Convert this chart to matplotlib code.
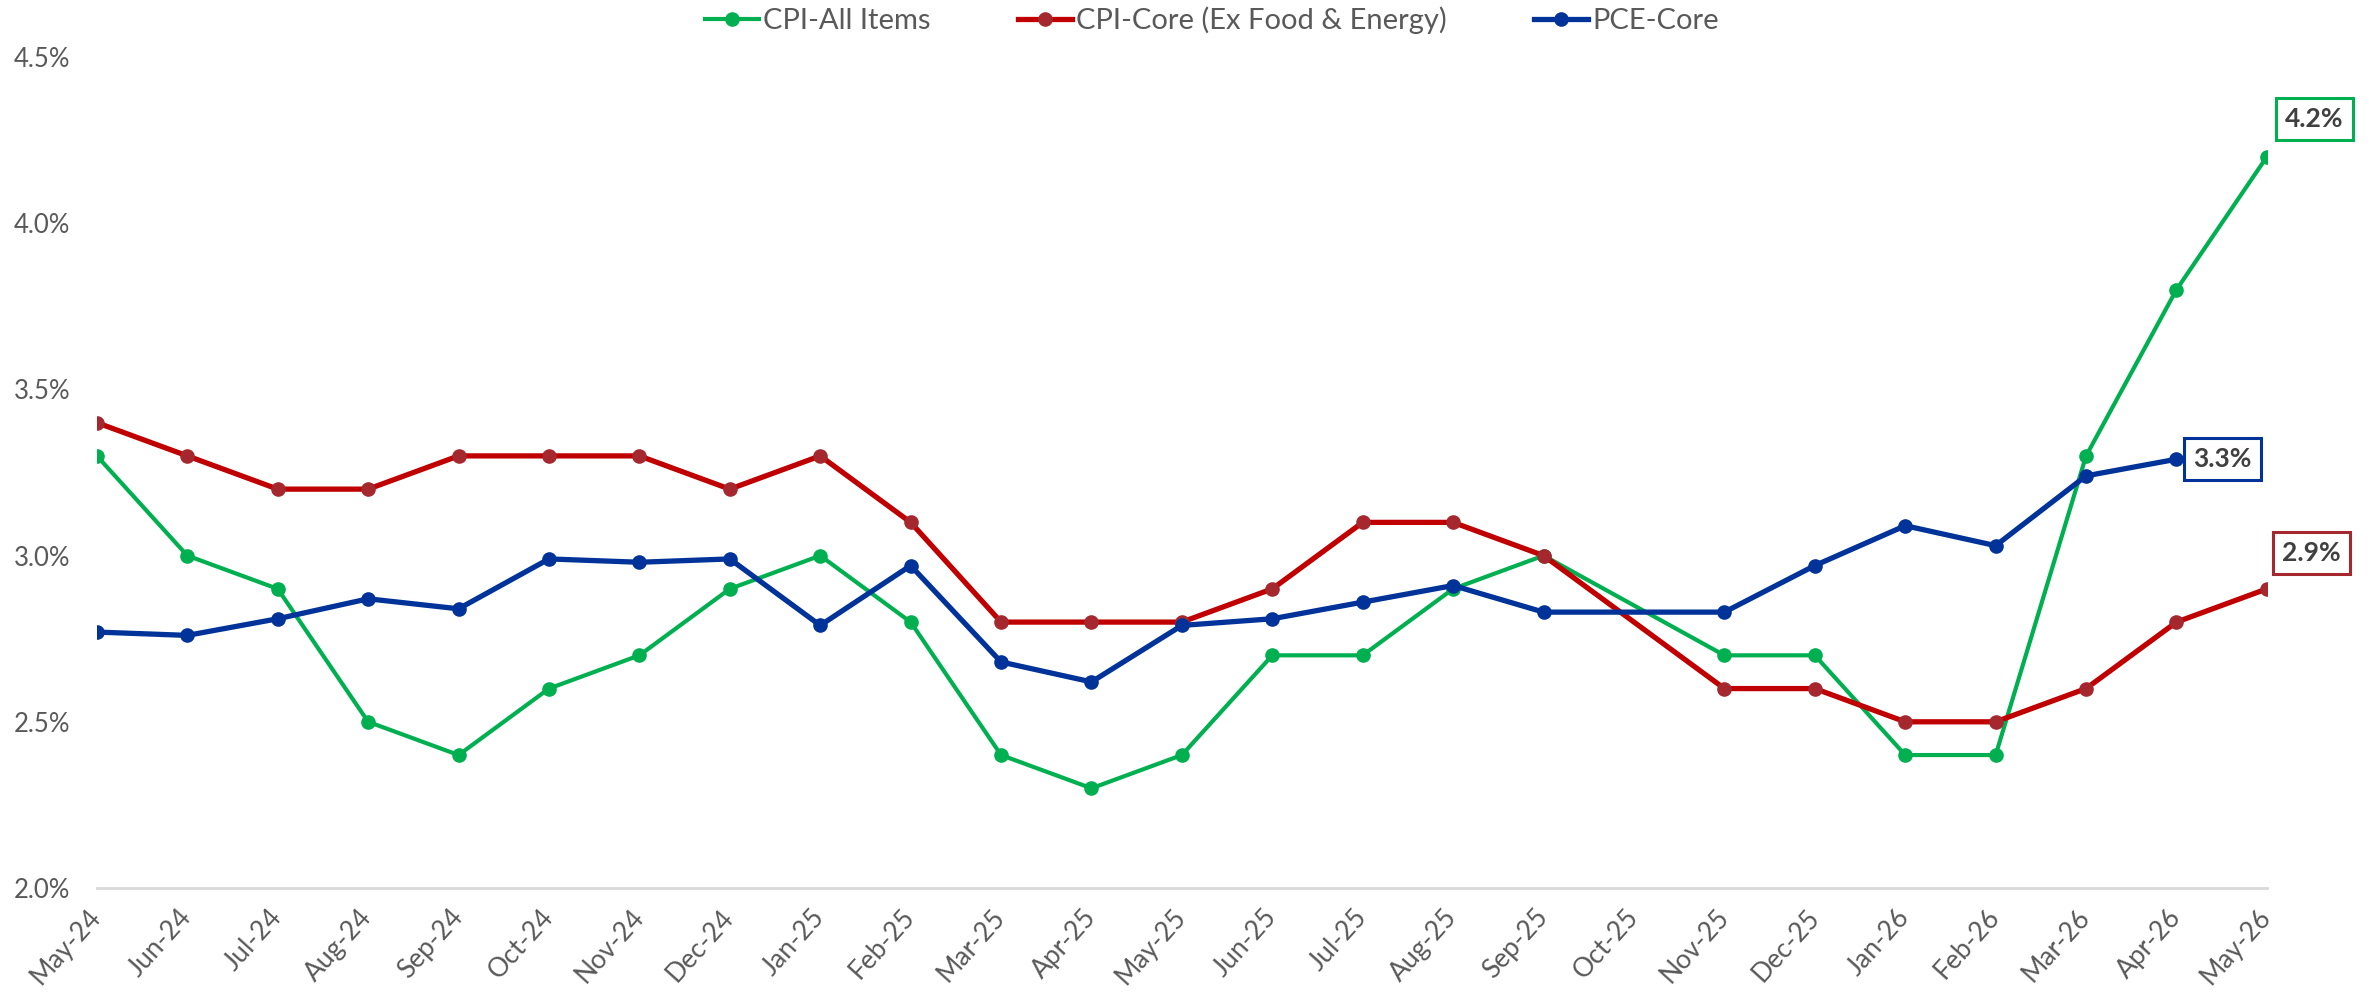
import matplotlib
matplotlib.use("Agg")
import matplotlib.pyplot as plt
import numpy as np

months = ["May-24", "Jun-24", "Jul-24", "Aug-24", "Sep-24", "Oct-24", "Nov-24", "Dec-24",
          "Jan-25", "Feb-25", "Mar-25", "Apr-25", "May-25", "Jun-25", "Jul-25", "Aug-25",
          "Sep-25", "Oct-25", "Nov-25", "Dec-25", "Jan-26", "Feb-26", "Mar-26", "Apr-26",
          "May-26"]

# None = no release (Oct-25 shutdown, PCE not out yet for May-26)
cpi_all = [3.3, 3.0, 2.9, 2.5, 2.4, 2.6, 2.7, 2.9, 3.0, 2.8, 2.4, 2.3, 2.4, 2.7, 2.7, 2.9,
           3.0, None, 2.7, 2.7, 2.4, 2.4, 3.3, 3.8, 4.2]
cpi_core = [3.4, 3.3, 3.2, 3.2, 3.3, 3.3, 3.3, 3.2, 3.3, 3.1, 2.8, 2.8, 2.8, 2.9, 3.1, 3.1,
            3.0, None, 2.6, 2.6, 2.5, 2.5, 2.6, 2.8, 2.9]
pce_core = [2.77, 2.76, 2.81, 2.87, 2.84, 2.99, 2.98, 2.99, 2.79, 2.97, 2.68, 2.62, 2.79, 2.81,
            2.86, 2.91, 2.83, None, 2.83, 2.97, 3.09, 3.03, 3.24, 3.29, None]

series = [
    ("CPI-All Items", cpi_all, "#00B050", "#00B050", 3.0, "4.2%", (34, 27)),
    ("CPI-Core (Ex Food & Energy)", cpi_core, "#C00000", "#A5282F", 3.8, "2.9%", (32, 26)),
    ("PCE-Core", pce_core, "#003399", "#003399", 3.8, "3.3%", (33, 0)),
]

plt.rcParams["font.family"] = ["Lato", "DejaVu Sans"]
grey = "#595959"

fig = plt.figure(figsize=(23.69, 10.06), dpi=100)
ax = fig.add_axes([0.0409, 0.1173, 0.916, 0.826])

for name, vals, col, mcol, lw, lab, off in series:
    xs = [i for i, v in enumerate(vals) if v is not None]
    ys = [v for v in vals if v is not None]
    ax.plot(xs, ys, color=col, lw=lw, marker="o", markersize=9.5,
            markerfacecolor=mcol, markeredgecolor=mcol, label=name, zorder=3)
    ax.annotate(lab, (xs[-1], ys[-1]), xytext=off, textcoords="offset points",
                ha="center", va="center", fontsize=19, fontweight="bold", color="#404040",
                bbox=dict(boxstyle="square,pad=0.35", fc="white", ec=mcol, lw=2.2))

ax.set_xlim(0, len(months) - 1)
ax.set_ylim(2.0, 4.5)
ax.set_xticks(range(len(months)))
ax.set_xticklabels(months, rotation=48, ha="right", va="center", rotation_mode="anchor")
ax.set_yticks(np.arange(2.0, 4.51, 0.5))
ax.set_yticklabels([f"{t:.1f}%" for t in np.arange(2.0, 4.51, 0.5)])
ax.tick_params(axis="x", length=0, pad=18, labelsize=19, labelcolor=grey)
ax.tick_params(axis="y", length=0, pad=19, labelsize=18.5, labelcolor=grey)

for s in ["top", "right", "left"]:
    ax.spines[s].set_visible(False)
ax.spines["bottom"].set_color("#D9D9D9")
ax.spines["bottom"].set_linewidth(2)

fig.legend(loc="center", bbox_to_anchor=(0.5116, 0.980), ncol=3, frameon=False,
           fontsize=21, labelcolor=grey, handlelength=1.85, handletextpad=0.15,
           columnspacing=3.0)

plt.savefig("out.png", dpi=100)
